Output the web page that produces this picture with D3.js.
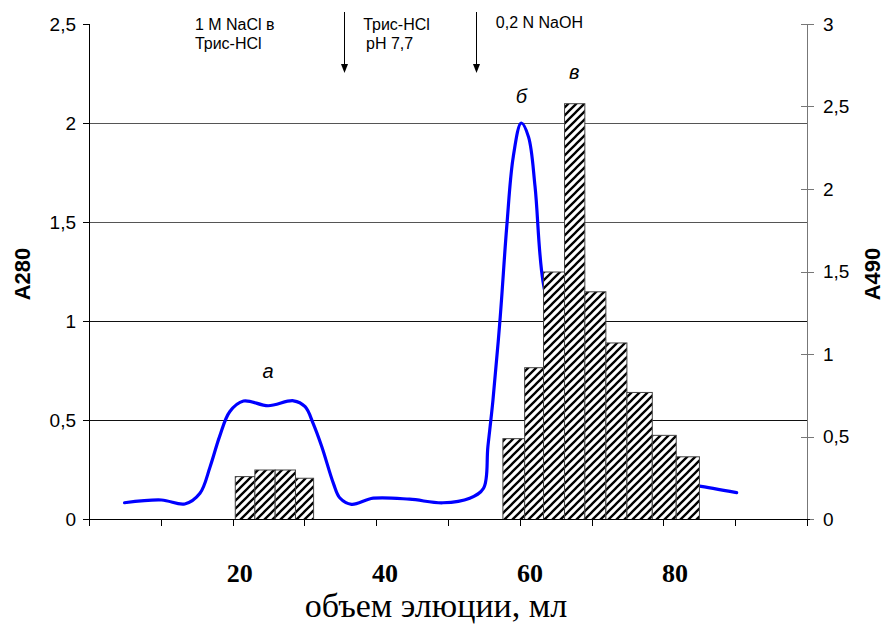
<!DOCTYPE html>
<html><head><meta charset="utf-8">
<script src="https://cdn.jsdelivr.net/npm/d3@7"></script>
<style>body{margin:0;background:#fff}</style>
</head><body><svg id="c" width="886" height="626"></svg>
<script>
// ---- data ----
const curveMl   = [4.1, 9.2, 12.4, 14.5, 15.9, 17.2, 18.6, 20.5, 23.9, 27.4, 29.0, 30.1, 31.3, 32.9, 33.8, 35.4, 38.4, 43.4, 48.0, 51.7, 53.6, 54.2, 54.9, 55.9, 56.8, 57.7, 58.8, 59.8, 60.7, 61.8, 64.1, 66.9, 69.7, 73.1, 77.2, 80.7, 83.2, 88.5];
const curveA280 = [0.082, 0.096, 0.076, 0.13, 0.264, 0.416, 0.542, 0.596, 0.572, 0.597, 0.567, 0.483, 0.365, 0.18, 0.106, 0.074, 0.105, 0.10, 0.082, 0.105, 0.155, 0.365, 0.60, 1.02, 1.476, 1.83, 2.0, 1.93, 1.68, 1.2, 0.85, 0.55, 0.37, 0.27, 0.21, 0.18, 0.167, 0.133];
const barFrom = [19.3, 22.0, 24.8, 27.6, 56.2, 59.2, 61.8, 64.7, 67.5, 70.4, 73.3, 76.8, 80.1];
const barTo   = [22.0, 24.8, 27.6, 30.1, 59.2, 61.8, 64.7, 67.5, 70.4, 73.3, 76.8, 80.1, 83.3];
const barA490 = [0.26, 0.30, 0.30, 0.25, 0.49, 0.92, 1.50, 2.52, 1.38, 1.07, 0.77, 0.51, 0.38];
const leftTicks  = [0, 0.5, 1, 1.5, 2, 2.5];
const rightTicks = [0, 0.5, 1, 1.5, 2, 2.5, 3];
const xLabels = [20, 40, 60, 80];
const peakLabels = ["а", "б", "в"];
const peakMl = [23.9, 58.8, 66.1];
const peakA280 = [0.71, 2.10, 2.22];
const arrowMl = [34.3, 52.6];

const fmt = v => String(v).replace(".", ",");
const svg = d3.select("#c");
const FONT = "'Liberation Sans', Arial, sans-serif";

const x = d3.scaleLinear().domain([-0.8, 98.2]).range([89, 807]);
const yL = d3.scaleLinear().domain([0, 2.5]).range([519, 24]);
const yR = d3.scaleLinear().domain([0, 3]).range([519, 24]);

// hatch pattern
const defs = svg.append("defs");
const pat = defs.append("pattern").attr("id", "hatch").attr("patternUnits", "userSpaceOnUse")
  .attr("width", 8).attr("height", 8);
pat.append("rect").attr("width", 8).attr("height", 8).attr("fill", "#fff");
pat.append("path").attr("d", "M0,8 L8,0 M-2,2 L2,-2 M6,10 L10,6")
  .attr("stroke", "#000").attr("stroke-width", 2.3);

// gridlines
svg.append("g").selectAll("line").data(leftTicks.filter(d => d > 0 && d < 2.5)).join("line")
  .attr("x1", x.range()[0]).attr("x2", x.range()[1])
  .attr("y1", d => Math.round(yL(d)) + 0.5).attr("y2", d => Math.round(yL(d)) + 0.5)
  .attr("stroke", (d) => d > 1 ? "#555" : "#111").attr("stroke-width", 1);

// curve
const line = d3.line().x((d, i) => x(curveMl[i])).y(d => yL(d)).curve(d3.curveCatmullRom.alpha(0.5));
svg.append("path").attr("d", line(curveA280)).attr("fill", "none")
  .attr("stroke", "#0000ff").attr("stroke-width", 3.2).attr("stroke-linejoin", "round").attr("stroke-linecap", "round");

// bars
svg.append("g").selectAll("rect").data(barA490).join("rect")
  .attr("x", (d, i) => x(barFrom[i]) + 0.5)
  .attr("width", (d, i) => x(barTo[i]) - x(barFrom[i]))
  .attr("y", d => yR(d) + 0.5)
  .attr("height", d => yR(0) - yR(d))
  .attr("fill", "url(#hatch)").attr("stroke", "#444").attr("stroke-width", 1);

// left axis
const gL = svg.append("g");
gL.append("line").attr("x1", 89.5).attr("x2", 89.5).attr("y1", yL(2.5)).attr("y2", yL(0) + 1).attr("stroke", "#000");
gL.selectAll("line.t").data(leftTicks).join("line").attr("class", "t")
  .attr("x1", 83).attr("x2", 89.5).attr("y1", d => Math.round(yL(d)) + 0.5).attr("y2", d => Math.round(yL(d)) + 0.5).attr("stroke", "#000");
gL.selectAll("text").data(leftTicks).join("text")
  .attr("x", 76).attr("y", d => yL(d)).attr("dy", "0.35em").attr("text-anchor", "end")
  .attr("font-family", FONT).attr("font-size", 19).text(fmt);

// right axis
const gR = svg.append("g");
gR.append("line").attr("x1", 807.5).attr("x2", 807.5).attr("y1", yR(3)).attr("y2", yR(0) + 1).attr("stroke", "#777");
gR.selectAll("line.t").data(rightTicks).join("line").attr("class", "t")
  .attr("x1", 801).attr("x2", 814).attr("y1", d => Math.round(yR(d)) + 0.5).attr("y2", d => Math.round(yR(d)) + 0.5).attr("stroke", "#777");
gR.selectAll("text").data(rightTicks).join("text")
  .attr("x", 823).attr("y", d => yR(d)).attr("dy", "0.35em").attr("text-anchor", "start")
  .attr("font-family", FONT).attr("font-size", 19).text(fmt);

// bottom axis
const gB = svg.append("g");
gB.append("line").attr("x1", 89).attr("x2", 810).attr("y1", 519.5).attr("y2", 519.5).attr("stroke", "#000");
const xd = x.domain();
const tickPos = d3.range(11).map(i => xd[0] + i * (xd[1] - xd[0]) / 10);
gB.selectAll("line.t").data(tickPos).join("line").attr("class", "t")
  .attr("x1", d => Math.round(x(d)) + 0.5).attr("x2", d => Math.round(x(d)) + 0.5)
  .attr("y1", 519.5).attr("y2", 526).attr("stroke", "#000");
gB.selectAll("text").data(xLabels).join("text")
  .attr("x", d => x(d)).attr("y", 582).attr("text-anchor", "middle")
  .attr("font-family", "'Liberation Serif', 'Times New Roman', serif").attr("font-weight", "bold")
  .attr("font-size", 26).text(d => d);
svg.append("text").attr("x", 436).attr("y", 617).attr("text-anchor", "middle")
  .attr("font-family", "'Liberation Serif', 'Times New Roman', serif").attr("font-size", 34)
  .text("объем элюции, мл");

// axis titles
svg.append("text").attr("transform", "translate(30,274) rotate(-90)").attr("text-anchor", "middle")
  .attr("font-family", FONT).attr("font-weight", "bold").attr("font-size", 22).text("A280");
svg.append("text").attr("transform", "translate(880,274) rotate(-90)").attr("text-anchor", "middle")
  .attr("font-family", FONT).attr("font-weight", "bold").attr("font-size", 22).text("A490");

// peak labels
svg.append("g").selectAll("text").data(peakLabels).join("text")
  .attr("x", (d, i) => x(peakMl[i])).attr("y", (d, i) => yL(peakA280[i])).attr("text-anchor", "middle")
  .attr("font-family", FONT).attr("font-style", "italic").attr("font-size", 20).text(d => d);

// annotations
const ann = svg.append("g").attr("font-family", FONT).attr("font-size", 16);
ann.append("text").attr("x", x(13.8)).attr("y", 30).text("1 M NaCl в");
ann.append("text").attr("x", x(13.8)).attr("y", 48.5).text("Трис-HCl");
ann.append("text").attr("x", x(37.0)).attr("y", 30).text("Трис-HCl");
ann.append("text").attr("x", x(37.4)).attr("y", 48.5).text("pH 7,7");
ann.append("text").attr("x", x(55.3)).attr("y", 28).text("0,2 N NaOH");

const arr = svg.append("g");
arrowMl.forEach(m => {
  const px = Math.round(x(m)) + 0.5;
  arr.append("line").attr("x1", px).attr("x2", px).attr("y1", 12).attr("y2", 66).attr("stroke", "#000").attr("stroke-width", 1);
  arr.append("path").attr("d", `M${px - 3.5},64 L${px + 3.5},64 L${px},73 Z`).attr("fill", "#000");
});
</script></body></html>
